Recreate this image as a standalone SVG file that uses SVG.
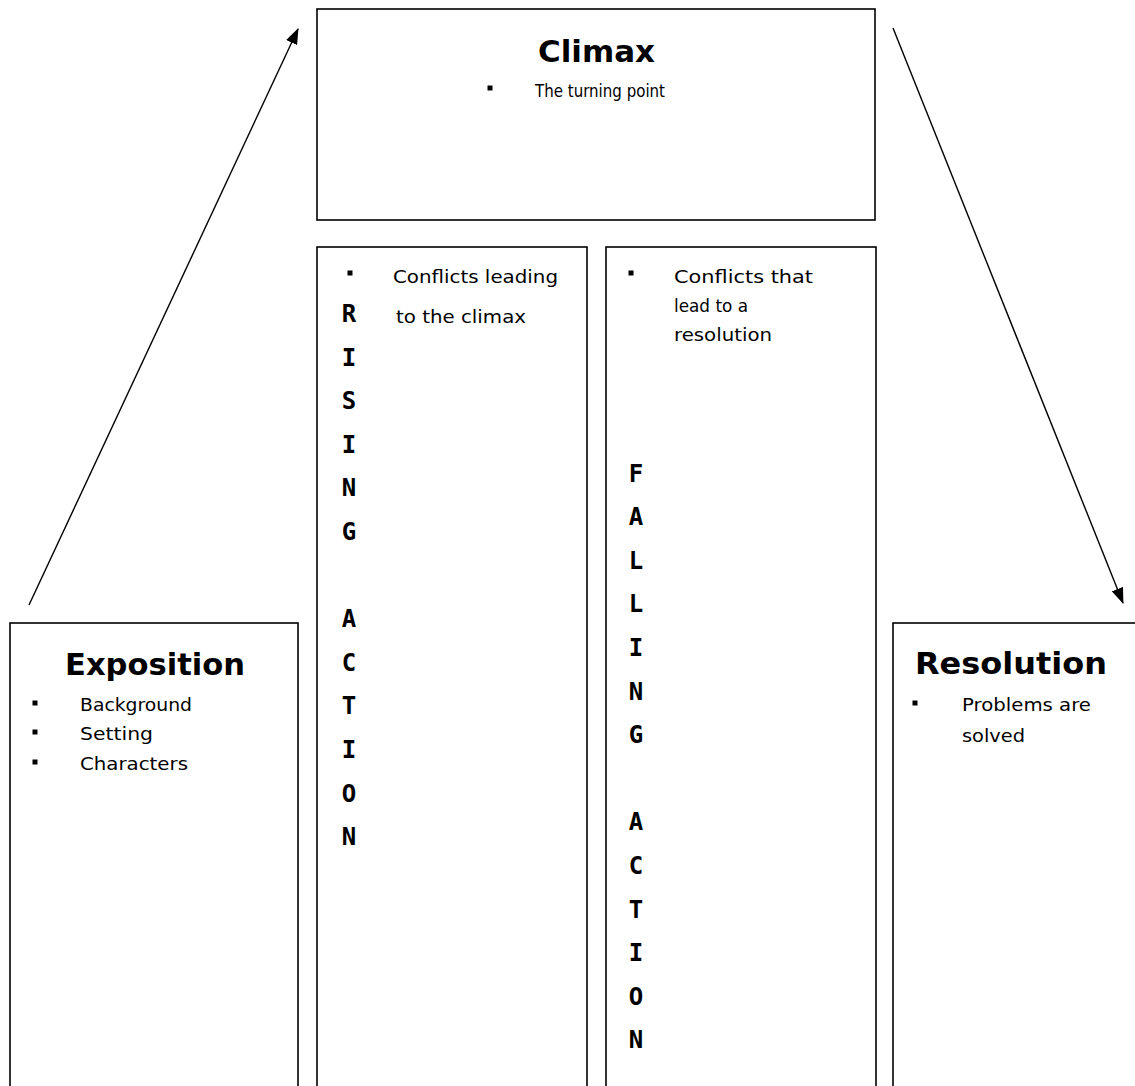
<svg xmlns="http://www.w3.org/2000/svg" width="1135" height="1086" viewBox="0 0 1135 1086">
<style>
.box{fill:none;stroke:#000;stroke-width:1.6}
.title{font-family:"DejaVu Sans",sans-serif;font-weight:bold;font-size:31px;fill:#000}
.body{font-family:"DejaVu Sans",sans-serif;font-size:17px;fill:#000}
.v{font-family:"DejaVu Sans Mono",monospace;font-weight:bold;font-size:24px;fill:#000;text-anchor:middle}
.bul{fill:#000}
.conn{stroke:#000;stroke-width:1.4;fill:none}
</style>
<defs>
<marker id="ah" markerUnits="userSpaceOnUse" markerWidth="16" markerHeight="12" refX="15" refY="6" orient="auto">
<path d="M0,0 L16,6 L0,12 Z" fill="#000"/>
</marker>
</defs>
<rect width="1135" height="1086" fill="#fff"/>
<g id="connectors">
<line class="conn" x1="29" y1="605" x2="298" y2="29" marker-end="url(#ah)"/>
<line class="conn" x1="893" y1="28" x2="1123" y2="603" marker-end="url(#ah)"/>
</g>
<g id="climax">
<rect class="box" x="317" y="9" width="558" height="211"/>
<text class="title" x="538" y="62" textLength="117" lengthAdjust="spacingAndGlyphs">Climax</text>
<rect class="bul" x="487.5" y="85.5" width="5" height="5"/>
<text class="body" x="535" y="97" textLength="130" lengthAdjust="spacingAndGlyphs">The turning point</text>
</g>
<g id="rising-action">
<rect class="box" x="317" y="247" width="270" height="860"/>
<rect class="bul" x="347.5" y="270.5" width="5" height="5"/>
<text class="body" x="393" y="283" textLength="165" lengthAdjust="spacingAndGlyphs">Conflicts leading</text>
<text class="body" x="396" y="323" textLength="130" lengthAdjust="spacingAndGlyphs">to the climax</text>
<text class="v" x="349" y="322">R</text>
<text class="v" x="349" y="365.6">I</text>
<text class="v" x="349" y="409.2">S</text>
<text class="v" x="349" y="452.8">I</text>
<text class="v" x="349" y="496.4">N</text>
<text class="v" x="349" y="540">G</text>
<text class="v" x="349" y="627.2">A</text>
<text class="v" x="349" y="670.8">C</text>
<text class="v" x="349" y="714.4">T</text>
<text class="v" x="349" y="758">I</text>
<text class="v" x="349" y="801.6">O</text>
<text class="v" x="349" y="845.2">N</text>
</g>
<g id="falling-action">
<rect class="box" x="606" y="247" width="270" height="860"/>
<rect class="bul" x="628.5" y="270.5" width="5" height="5"/>
<text class="body" x="674" y="283" textLength="139" lengthAdjust="spacingAndGlyphs">Conflicts that</text>
<text class="body" x="674" y="312" textLength="74" lengthAdjust="spacingAndGlyphs">lead to a</text>
<text class="body" x="674" y="341" textLength="98" lengthAdjust="spacingAndGlyphs">resolution</text>
<text class="v" x="636" y="481.6">F</text>
<text class="v" x="636" y="525.2">A</text>
<text class="v" x="636" y="568.8">L</text>
<text class="v" x="636" y="612.4">L</text>
<text class="v" x="636" y="656">I</text>
<text class="v" x="636" y="699.6">N</text>
<text class="v" x="636" y="743.2">G</text>
<text class="v" x="636" y="830.4">A</text>
<text class="v" x="636" y="874">C</text>
<text class="v" x="636" y="917.6">T</text>
<text class="v" x="636" y="961.2">I</text>
<text class="v" x="636" y="1004.8">O</text>
<text class="v" x="636" y="1048.4">N</text>
</g>
<g id="exposition">
<rect class="box" x="10" y="623" width="288" height="500"/>
<text class="title" x="65" y="675" textLength="180" lengthAdjust="spacingAndGlyphs">Exposition</text>
<rect class="bul" x="32.5" y="700.5" width="5" height="5"/>
<rect class="bul" x="32.5" y="729.5" width="5" height="5"/>
<rect class="bul" x="32.5" y="759.5" width="5" height="5"/>
<text class="body" x="80" y="711" textLength="112" lengthAdjust="spacingAndGlyphs">Background</text>
<text class="body" x="80" y="740" textLength="73" lengthAdjust="spacingAndGlyphs">Setting</text>
<text class="body" x="80" y="770" textLength="108" lengthAdjust="spacingAndGlyphs">Characters</text>
</g>
<g id="resolution">
<rect class="box" x="893" y="623" width="300" height="500"/>
<text class="title" x="915" y="674" textLength="192" lengthAdjust="spacingAndGlyphs">Resolution</text>
<rect class="bul" x="912.5" y="700.5" width="5" height="5"/>
<text class="body" x="962" y="711" textLength="129" lengthAdjust="spacingAndGlyphs">Problems are</text>
<text class="body" x="962" y="742" textLength="63" lengthAdjust="spacingAndGlyphs">solved</text>
</g>
</svg>
